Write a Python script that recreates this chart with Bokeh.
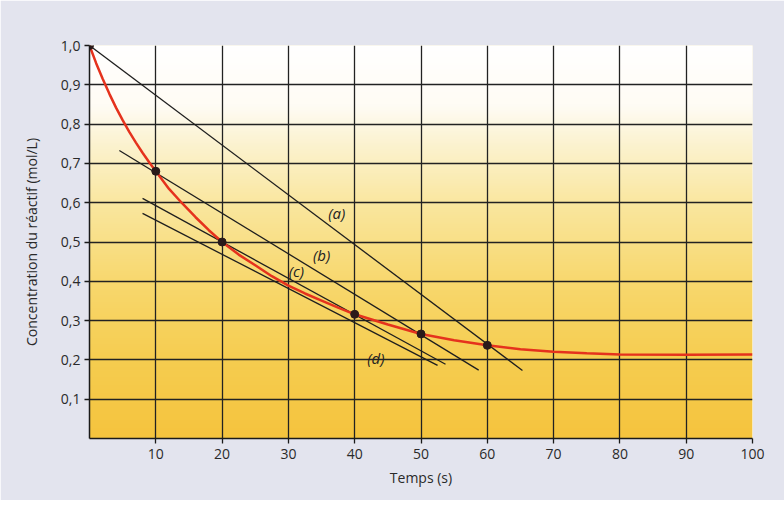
import numpy as np
from bokeh.plotting import figure
from bokeh.models import FixedTicker
from bokeh.embed import file_html
from bokeh.resources import INLINE
from bokeh.core.properties import value

# ---- data ----
t_curve = [0, 1, 2, 3, 4, 5, 6, 7, 8, 9, 10, 12, 14, 16, 18, 20, 22.5, 25, 27.5, 30,
           32.5, 35, 37.5, 40, 45, 50, 55, 60, 65, 70, 75, 80, 90, 100]
c_curve = [1.0, 0.955, 0.915, 0.877, 0.842, 0.81, 0.78, 0.753, 0.727, 0.703, 0.68,
           0.635, 0.598, 0.563, 0.53, 0.50, 0.468, 0.441, 0.413, 0.389, 0.369, 0.351,
           0.333, 0.316, 0.29, 0.266, 0.25, 0.237, 0.227, 0.221, 0.217, 0.214, 0.213, 0.214]

t_points = [0, 10, 20, 40, 50, 60]
c_points = [1.0, 0.68, 0.50, 0.316, 0.266, 0.237]

seg_x0 = [0, 4.5, 8, 8]
seg_y0 = [1.0, 0.733, 0.611, 0.573]
seg_x1 = [65.3, 58.7, 53.7, 52.5]
seg_y1 = [0.173, 0.174, 0.189, 0.186]

seg_names = ["(a)", "(b)", "(c)", "(d)"]
label_x = [37.3, 35.0, 31.2, 43.2]
label_y = [0.575, 0.468, 0.427, 0.206]

x_ticks = [10, 20, 30, 40, 50, 60, 70, 80, 90, 100]
y_ticks = [0.1, 0.2, 0.3, 0.4, 0.5, 0.6, 0.7, 0.8, 0.9, 1.0]
y_tick_labels = ["0,1", "0,2", "0,3", "0,4", "0,5", "0,6", "0,7", "0,8", "0,9", "1,0"]

FONT = "Open Sans"

p = figure(width=784, height=500, x_range=(0, 100), y_range=(0, 1.0),
           output_backend="svg", toolbar_location=None,
           min_border_left=89, min_border_right=32, min_border_top=45, min_border_bottom=62)
p.border_fill_color = "#e3e4ee"
p.background_fill_color = "#fdf6dc"
p.outline_line_color = None

# vertical gradient background (white top -> yellow-orange bottom)
n = 200
ys = np.linspace(0, 1, n)
stops_y = [0.0, 0.2, 0.4, 0.6, 0.75, 0.85, 1.0]
stops_r = [245, 246, 248, 250, 252, 255, 255]
stops_g = [196, 205, 216, 231, 243, 252, 255]
stops_b = [62, 80, 110, 160, 208, 245, 255]
img = np.empty((n, 1), dtype=np.uint32)
view = img.view(dtype=np.uint8).reshape((n, 1, 4))
view[:, 0, 0] = np.interp(ys, stops_y, stops_r).astype(np.uint8)
view[:, 0, 1] = np.interp(ys, stops_y, stops_g).astype(np.uint8)
view[:, 0, 2] = np.interp(ys, stops_y, stops_b).astype(np.uint8)
view[:, 0, 3] = 255
p.image_rgba(image=[img], x=0, y=0, dw=100, dh=1.0, level="image")

# grid
p.xgrid.ticker = FixedTicker(ticks=x_ticks[:-1])
p.ygrid.ticker = FixedTicker(ticks=y_ticks[:-1])
p.xgrid.grid_line_color = "#222222"
p.ygrid.grid_line_color = "#222222"
p.xgrid.grid_line_width = 1.3
p.ygrid.grid_line_width = 1.3
p.grid.level = "underlay"

# axes
p.xaxis.ticker = FixedTicker(ticks=x_ticks)
p.yaxis.ticker = FixedTicker(ticks=y_ticks)
p.yaxis.major_label_overrides = {t: l for t, l in zip(y_ticks, y_tick_labels)}
for ax in (p.xaxis, p.yaxis):
    ax.axis_line_color = "#1a1a1a"
    ax.axis_line_width = 1.5
    ax.major_tick_line_color = "#1a1a1a"
    ax.major_tick_line_width = 1.3
    ax.major_tick_out = 5
    ax.major_tick_in = 0
    ax.minor_tick_line_color = None
    ax.major_label_text_font = FONT
    ax.major_label_text_font_size = "14px"
    ax.major_label_text_color = "#2a2a2a"
    ax.axis_label_text_font = FONT
    ax.axis_label_text_font_size = "14px"
    ax.axis_label_text_font_style = "normal"
    ax.axis_label_text_color = "#2a2a2a"
p.xaxis.axis_label = "Temps (s)"
p.yaxis.axis_label = "Concentration du réactif (mol/L)"
p.xaxis.major_label_standoff = 5
p.xaxis.axis_label_standoff = 6
p.yaxis.major_label_standoff = 4
p.yaxis.axis_label_standoff = 17

# straight lines (a)-(d)
p.segment(x0=seg_x0, y0=seg_y0, x1=seg_x1, y1=seg_y1, line_color="#1e1e1e", line_width=1.3)

# red curve
p.line(t_curve, c_curve, line_color="#e5321d", line_width=2.5)

# measured points
p.scatter(t_points, c_points, size=8, fill_color="#2a1a1a", line_color="#2a1a1a")

# labels
p.text(x=label_x, y=label_y, text=seg_names, text_font=value(FONT),
       text_font_style="italic", text_font_size="15px", text_color="#222222",
       text_align="center", text_baseline="middle")

open("out.html", "w").write(file_html(p, INLINE))
